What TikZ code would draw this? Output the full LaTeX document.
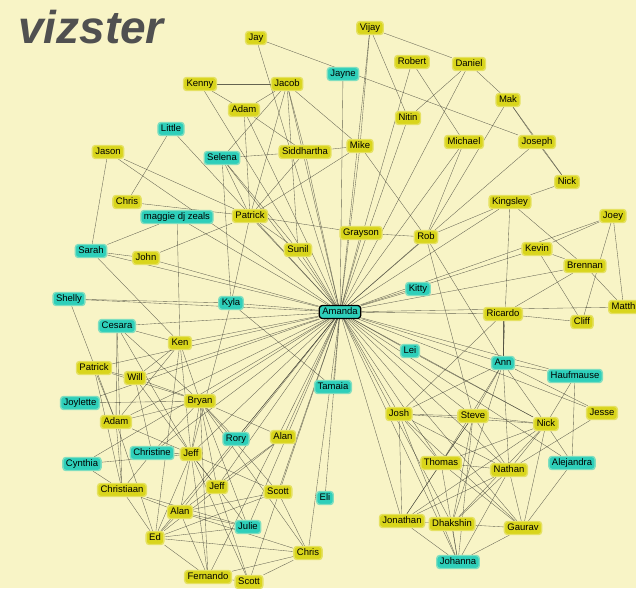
\documentclass[tikz,border=0pt]{standalone}
\usepackage{fontspec}
\setmainfont{Liberation Sans}
\usetikzlibrary{backgrounds}
\definecolor{bgc}{HTML}{F8F4C6}
\definecolor{ynode}{HTML}{D9D51C}
\definecolor{cnode}{HTML}{2ECFBA}
\definecolor{titlec}{HTML}{505050}
\definecolor{edgec}{HTML}{33332A}
\tikzset{
  pnode/.style={rounded corners=3pt, inner xsep=3pt, inner ysep=2pt, text height=7pt, text depth=2pt, font=\fontsize{9.5}{10}\selectfont, text=black, line width=1.4pt},
  yn/.style={pnode, fill=ynode, draw=ynode!60!bgc},
  cn/.style={pnode, fill=cnode, draw=cnode!60!bgc},
  hub/.style={pnode, fill=cnode, draw=black, line width=1.3pt},
  edge/.style={draw=edgec, line width=0.35pt, opacity=0.75}
}
\begin{document}
\begin{tikzpicture}[x=1pt,y=-1pt]
\useasboundingbox (0,0) rectangle (636,588);
\node[font=\fontsize{46}{46}\selectfont\bfseries\itshape, text=titlec, inner sep=0pt] (title) at (91,27) {vizster};
% top
\node[yn] (jay) at (256,38) {Jay};
\node[yn] (vijay) at (370,28) {Vijay};
\node[yn] (robert) at (412,62) {Robert};
\node[yn] (daniel) at (469,64) {Daniel};
\node[cn] (jayne) at (343,74) {Jayne};
\node[yn] (kenny) at (200,84) {Kenny};
\node[yn] (jacob) at (287,84) {Jacob};
\node[yn] (mak) at (508,100) {Mak};
\node[yn] (adamT) at (244,110) {Adam};
\node[cn] (little) at (171,129) {Little};
\node[yn] (nitin) at (408,118) {Nitin};
\node[yn] (michael) at (464,142) {Michael};
\node[yn] (joseph) at (537,142) {Joseph};
\node[yn] (jason) at (108,152) {Jason};
\node[yn] (siddhartha) at (305,152) {Siddhartha};
\node[yn] (mike) at (360,146) {Mike};
\node[cn] (selena) at (222,158) {Selena};
\node[yn] (nickT) at (567,182) {Nick};
\node[yn] (chrisT) at (127,202) {Chris};
\node[cn] (maggie) at (177,217) {maggie dj zeals};
\node[yn] (patrickM) at (250,216) {Patrick};
\node[yn] (kingsley) at (510,202) {Kingsley};
\node[yn] (joey) at (613,216) {Joey};
\node[yn] (grayson) at (361,233) {Grayson};
\node[yn] (rob) at (426,237) {Rob};
\node[yn] (sunil) at (298,250) {Sunil};
\node[yn] (john) at (146,258) {John};
\node[yn] (kevin) at (537,249) {Kevin};
\node[yn] (brennan) at (585,266) {Brennan};
\node[cn] (sarah) at (91,251) {Sarah};
\node[cn] (shelly) at (69,299) {Shelly};
\node[cn] (kyla) at (231,303) {Kyla};
\node[hub] (amanda) at (340,312) {Amanda};
\node[cn] (kitty) at (418,289) {Kitty};
\node[yn, anchor=west] (matth) at (608,307) {Matth};
\node[yn] (ricardo) at (503,314) {Ricardo};
\node[yn] (cliff) at (582,322) {Cliff};
\node[cn] (cesara) at (117,326) {Cesara};
\node[yn] (ken) at (180,343) {Ken};
\node[cn] (lei) at (410,351) {Lei};
\node[cn] (ann) at (503,363) {Ann};
\node[yn] (patrickL) at (94,368) {Patrick};
\node[yn] (will) at (135,378) {Will};
\node[cn] (tamaia) at (333,387) {Tamaia};
\node[cn] (haufmause) at (575,376) {Haufmause};
\node[cn] (joylette) at (80,403) {Joylette};
\node[yn] (bryan) at (200,401) {Bryan};
\node[yn] (josh) at (399,414) {Josh};
\node[yn] (steve) at (473,416) {Steve};
\node[yn] (jesse) at (602,413) {Jesse};
\node[yn] (adamL) at (116,422) {Adam};
\node[cn] (rory) at (236,439) {Rory};
\node[yn] (alanR) at (283,437) {Alan};
\node[yn] (nickR) at (546,424) {Nick};
\node[cn] (christine) at (152,453) {Christine};
\node[yn] (jeffA) at (191,454) {Jeff};
\node[cn] (cynthia) at (82,464) {Cynthia};
\node[yn] (thomas) at (441,463) {Thomas};
\node[cn] (alejandra) at (572,463) {Alejandra};
\node[yn] (nathan) at (509,470) {Nathan};
\node[yn] (jeffB) at (217,487) {Jeff};
\node[yn] (christiaan) at (122,490) {Christiaan};
\node[yn] (scottR) at (278,492) {Scott};
\node[cn] (eli) at (325,498) {Eli};
\node[yn] (alanB) at (180,512) {Alan};
\node[cn] (julie) at (248,527) {Julie};
\node[yn] (ed) at (155,538) {Ed};
\node[yn] (jonathan) at (402,521) {Jonathan};
\node[yn] (dhakshin) at (452,524) {Dhakshin};
\node[yn] (gaurav) at (523,528) {Gaurav};
\node[yn] (chrisB) at (308,553) {Chris};
\node[cn] (johanna) at (458,562) {Johanna};
\node[yn] (fernando) at (208,577) {Fernando};
\node[yn] (scottB) at (249,582) {Scott};
\begin{scope}[on background layer]
\fill[bgc] (0,0) rectangle (636,588);
% hub edges
\foreach \b in {jay,vijay,robert,daniel,jayne,kenny,jacob,adamT,little,nitin,michael,mike,siddhartha,selena,patrickM,grayson,rob,sunil,john,sarah,maggie,kingsley,joey,kevin,brennan,kitty,matth,ricardo,shelly,kyla,cesara,ken,will,joylette,bryan,adamL,christine,jeffA,rory,alanR,jeffB,scottR,alanB,julie,ed,chrisB,fernando,scottB,eli,tamaia,lei,ann,haufmause,jesse,josh,steve,nickR,thomas,nathan,alejandra,jonathan,dhakshin,gaurav,johanna,joseph,jason,patrickL,cynthia}
  \draw[edge] (amanda) -- (\b);
% other edges
\foreach \a/\b in {jay/joseph,kenny/jacob,kenny/adamT,jacob/adamT,jacob/mike,jacob/patrickM,jacob/selena,jacob/siddhartha,jacob/sunil,adamT/patrickM,adamT/siddhartha,vijay/nitin,vijay/daniel,vijay/mike,robert/michael,daniel/nitin,daniel/mak,mak/joseph,mak/nickT,mak/rob,michael/rob,joseph/nickT,nickT/kingsley,mike/siddhartha,mike/patrickM,mike/rob,siddhartha/selena,siddhartha/patrickM,selena/patrickM,selena/kyla,selena/sunil,little/chrisT,jason/sarah,jason/patrickM,chrisT/patrickM,patrickM/john,patrickM/kyla,patrickM/grayson,patrickM/sunil,grayson/rob,maggie/sarah,maggie/ken,sarah/john,sarah/ken,shelly/kyla,shelly/adamL,kyla/jeffA,kyla/tamaia,cesara/ken,cesara/christiaan,cesara/adamL,cesara/bryan,cesara/jeffA,ken/will,ken/bryan,ken/jeffA,ken/adamL,ken/ed,patrickL/will,patrickL/bryan,patrickL/christiaan,patrickL/adamL,will/bryan,will/jeffA,will/christine,joylette/bryan,bryan/rory,bryan/alanR,bryan/jeffA,bryan/jeffB,bryan/scottR,bryan/adamL,bryan/christine,bryan/fernando,bryan/chrisB,bryan/julie,adamL/jeffA,adamL/christiaan,adamL/ed,alanR/alanB,alanR/ed,christine/jeffA,christine/christiaan,jeffA/cynthia,jeffA/alanB,jeffA/ed,jeffA/fernando,jeffA/jeffB,jeffA/scottR,jeffA/julie,jeffA/scottB,cynthia/christiaan,jeffB/scottB,christiaan/alanB,christiaan/ed,christiaan/julie,scottR/alanB,scottR/chrisB,scottR/ed,alanB/julie,alanB/fernando,alanB/ed,alanB/chrisB,julie/ed,ed/chrisB,ed/fernando,chrisB/fernando,chrisB/scottB,fernando/scottB,kingsley/brennan,kingsley/ann,kingsley/rob,joey/kevin,joey/matth,joey/cliff,kevin/cliff,kevin/brennan,brennan/matth,brennan/ricardo,ricardo/cliff,ricardo/ann,ricardo/josh,rob/ann,rob/steve,lei/nickR,ann/josh,ann/steve,ann/nickR,ann/thomas,ann/nathan,ann/jesse,ann/haufmause,ann/dhakshin,haufmause/nickR,haufmause/alejandra,jesse/nathan,josh/steve,josh/nickR,josh/nathan,josh/jonathan,josh/johanna,josh/gaurav,josh/thomas,steve/nickR,steve/thomas,steve/nathan,steve/johanna,steve/dhakshin,steve/jonathan,nickR/alejandra,nickR/nathan,nickR/thomas,nickR/gaurav,nickR/jonathan,nickR/dhakshin,thomas/nathan,thomas/jonathan,thomas/johanna,thomas/gaurav,alejandra/gaurav,nathan/jonathan,nathan/dhakshin,nathan/johanna,nathan/gaurav,jonathan/johanna,jonathan/dhakshin,dhakshin/gaurav,dhakshin/johanna,gaurav/johanna}
  \draw[edge] (\a) -- (\b);
\end{scope}
\end{tikzpicture}
\end{document}
